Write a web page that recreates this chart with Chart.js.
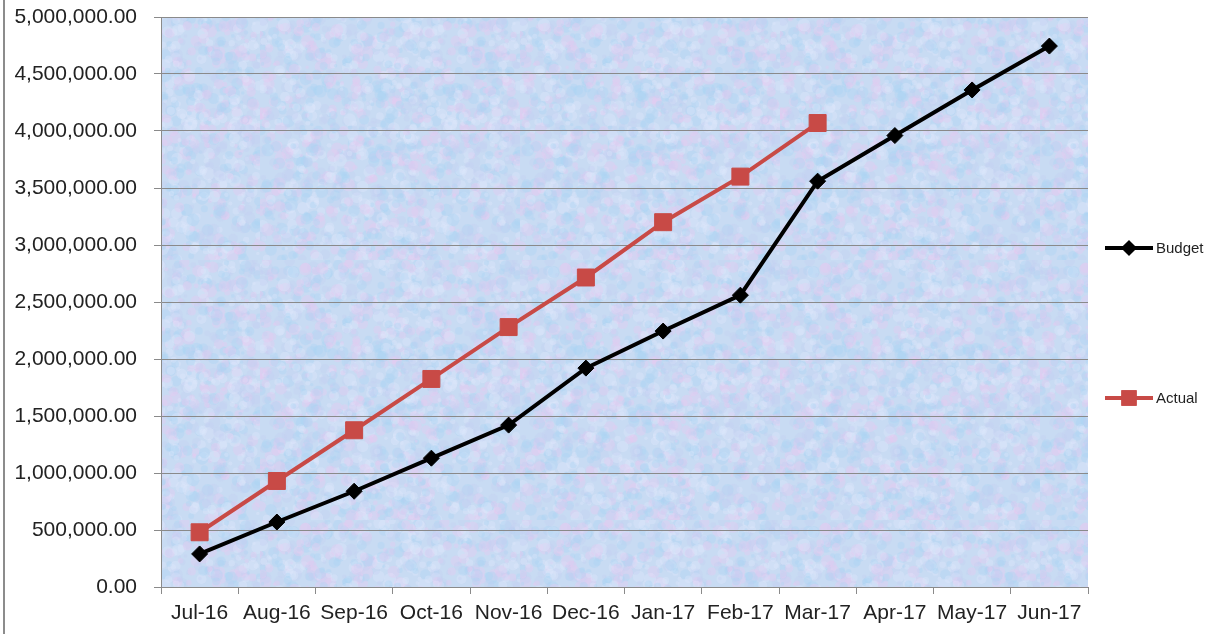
<!DOCTYPE html>
<html>
<head>
<meta charset="utf-8">
<script src="https://cdn.jsdelivr.net/npm/chart.js@4/dist/chart.umd.min.js"></script>
<style>
  html, body { margin: 0; padding: 0; background: #fff; }
  #wrap { position: relative; width: 1219px; height: 634px; }
</style>
</head>
<body>
<div id="wrap"><canvas id="chart" width="1219" height="634"></canvas></div>
<script>
// chart data
const months = ['Jul-16', 'Aug-16', 'Sep-16', 'Oct-16', 'Nov-16', 'Dec-16',
    'Jan-17', 'Feb-17', 'Mar-17', 'Apr-17', 'May-17', 'Jun-17'];
const budget = [290000, 570000, 840000, 1130000, 1420000, 1920000,
    2245000, 2560000, 3560000, 3960000, 4360000, 4745000];
const actual = [480000, 930000, 1375000, 1825000, 2280000, 2715000,
    3200000, 3600000, 4070000];
const yTicks = [0, 500000, 1000000, 1500000, 2000000, 2500000,
    3000000, 3500000, 4000000, 4500000, 5000000];

const FONT = "'Liberation Sans', Arial, sans-serif";
const RED = '#c84a46';

// soft blue/pink texture for the plot area (seeded so it's stable)
function makeTexture() {
    const c = document.createElement('canvas');
    c.width = 260; c.height = 260;
    const g = c.getContext('2d');
    g.fillStyle = '#c8dbf3';
    g.fillRect(0, 0, 260, 260);
    let seed = 11;
    const rnd = () => { seed = (seed * 16807) % 2147483647; return seed / 2147483647; };
    const cols = ['rgba(232,200,240,0.35)', 'rgba(168,212,244,0.35)',
        'rgba(224,232,252,0.35)', 'rgba(194,204,242,0.3)'];
    for (let i = 0; i < 1800; i++) {
        const x = rnd() * 260, y = rnd() * 260, r = 1.5 + rnd() * 5;
        g.fillStyle = cols[Math.floor(rnd() * cols.length)];
        g.beginPath();
        g.arc(x, y, r, 0, Math.PI * 2);
        g.fill();
    }
    return c;
}

const bgPlugin = {
    id: 'plotBg',
    beforeDraw(chart) {
        const { ctx, chartArea: a } = chart;
        ctx.save();
        ctx.fillStyle = ctx.createPattern(makeTexture(), 'repeat');
        ctx.fillRect(a.left, a.top, a.right - a.left, a.bottom - a.top);
        // outer left frame line
        ctx.fillStyle = '#8c8c8c';
        ctx.fillRect(3, 0, 2, chart.height);
        ctx.restore();
    }
};

// legend drawn at the right, like the spreadsheet chart
const legendPlugin = {
    id: 'sideLegend',
    afterDraw(chart) {
        const ctx = chart.ctx;
        const items = [
            { label: 'Budget', ds: 0, y: 248 },
            { label: 'Actual', ds: 1, y: 398 }
        ];
        ctx.save();
        items.forEach(it => {
            const ds = chart.data.datasets[it.ds];
            ctx.strokeStyle = ds.borderColor;
            ctx.lineWidth = 4;
            ctx.beginPath();
            ctx.moveTo(1105, it.y);
            ctx.lineTo(1153, it.y);
            ctx.stroke();
            Chart.helpers.drawPoint(ctx, {
                pointStyle: ds.pointStyle,
                radius: it.ds === 0 ? 5 : 8,
                borderWidth: 1,
                rotation: 0
            }, 1129, it.y);
            ctx.fillStyle = ds.pointBackgroundColor;
            ctx.strokeStyle = ds.pointBorderColor;
            ctx.fill();
            ctx.stroke();
            ctx.fillStyle = '#222';
            ctx.font = '15px ' + FONT;
            ctx.textBaseline = 'middle';
            ctx.fillText(it.label, 1156, it.y + 1);
        });
        ctx.restore();
    }
};

new Chart(document.getElementById('chart'), {
    type: 'line',
    data: {
        labels: months,
        datasets: [{
            label: 'Budget',
            data: budget,
            borderColor: '#000',
            borderWidth: 4,
            pointStyle: 'rectRot',
            pointRadius: 8,
            pointBorderWidth: 1,
            pointBackgroundColor: '#000',
            pointBorderColor: '#000',
            tension: 0
        }, {
            label: 'Actual',
            data: actual,
            borderColor: RED,
            borderWidth: 4,
            pointStyle: 'rect',
            pointRadius: 12,
            pointBorderWidth: 1,
            pointBackgroundColor: RED,
            pointBorderColor: RED,
            tension: 0
        }]
    },
    options: {
        responsive: false,
        animation: false,
        layout: { padding: { left: 0, right: 131, top: 17, bottom: 0 } },
        plugins: { legend: { display: false }, tooltip: { enabled: false } },
        scales: {
            x: {
                offset: true,
                afterFit(s) { s.height = 47; },
                grid: {
                    offset: true,
                    drawOnChartArea: false,
                    color: '#8a8a8a',
                    tickLength: 7
                },
                border: { color: '#8a8a8a', width: 1 },
                ticks: {
                    color: '#222',
                    font: { family: FONT, size: 21 },
                    padding: 7,
                    maxRotation: 0,
                    autoSkip: false
                }
            },
            y: {
                min: 0,
                max: 5000000,
                afterFit(s) {
                    s.width = 161;
                    s.paddingTop = 0;
                    s.paddingBottom = 0;
                },
                afterBuildTicks(s) { s.ticks = yTicks.map(v => ({ value: v })); },
                grid: { color: '#8a8a8a', tickLength: 7 },
                border: { color: '#8a8a8a', width: 1 },
                ticks: {
                    color: '#222',
                    font: { family: FONT, size: 21 },
                    padding: 17,
                    callback: v => Number(v).toLocaleString('en-US',
                        { minimumFractionDigits: 2, maximumFractionDigits: 2 })
                }
            }
        }
    },
    plugins: [bgPlugin, legendPlugin]
});
</script>
</body>
</html>
